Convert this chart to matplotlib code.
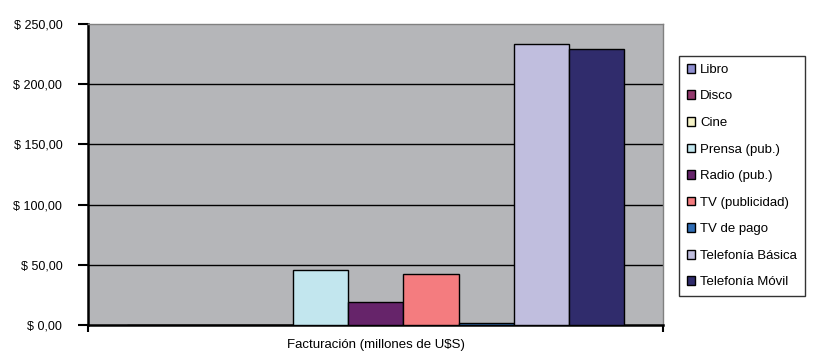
import matplotlib
matplotlib.use("Agg")
import matplotlib.pyplot as plt
import numpy as np

plt.rcParams['font.family'] = ['Liberation Sans', 'DejaVu Sans']

categories = ["Libro", "Disco", "Cine", "Prensa (pub.)", "Radio (pub.)", "TV (publicidad)",
              "TV de pago", "Telefonía Básica", "Telefonía Móvil"]
values = [0.0, 0.0, 0.0, 46.0, 19.0, 42.0, 1.5, 233.5, 229.0]
colors = ["#8F8FD0", "#943A6E", "#F5F2C6", "#C2E6EE", "#66246A", "#F47C7F",
          "#2F6DB5", "#C0BEDE", "#302C6C"]
yticks = [0, 50, 100, 150, 200, 250]
xlabel = "Facturación (millones de U$S)"

fig = plt.figure(figsize=(8.14, 3.54), dpi=100)
ax = fig.add_axes([0.1081, 0.0819, 0.8145 - 0.1081, 0.932 - 0.0819])
ax.set_facecolor("#B5B6B9")

n = len(values)
w = 0.0961
start = 0.0678
xs = start + w * np.arange(n) + w / 2
handles = []
for x, v, c, lab in zip(xs, values, colors, categories):
    b = ax.bar(x, v, width=w, color=c, edgecolor="black", linewidth=1.0, label=lab, zorder=3)
    handles.append(b)

ax.set_xlim(0, 1)
ax.set_ylim(0, 250)
ax.set_yticks(yticks)
ax.set_yticklabels([f"$ {t:.2f}".replace(".", ",") for t in yticks], fontsize=9)
for t in yticks[1:-1]:
    ax.axhline(t, color="black", linewidth=1.0, zorder=1)
ax.set_xticks([0, 1])
ax.set_xticklabels([])
ax.tick_params(axis='x', direction='out', length=5, width=1.5)
ax.tick_params(axis='y', direction='out', length=7, width=1.5, pad=11.5)
for lbl in ax.get_yticklabels():
    lbl.set_horizontalalignment('right')

for s in ["top", "right"]:
    ax.spines[s].set_color("#808080")
    ax.spines[s].set_linewidth(1.0)
for s in ["left", "bottom"]:
    ax.spines[s].set_color("black")
    ax.spines[s].set_linewidth(1.8)

ax.set_xlabel(xlabel, fontsize=9.5, labelpad=1.5)

leg = fig.legend(handles=handles, labels=categories, loc="upper left",
                 bbox_to_anchor=(0.834, 0.842), fontsize=9.5, frameon=True,
                 fancybox=False, edgecolor="black", handlelength=0.65, handleheight=0.65,
                 handletextpad=0.35, labelspacing=1.1, borderpad=0.6, borderaxespad=0)
leg.get_frame().set_linewidth(1.0)

fig.savefig("out.png", dpi=100)
